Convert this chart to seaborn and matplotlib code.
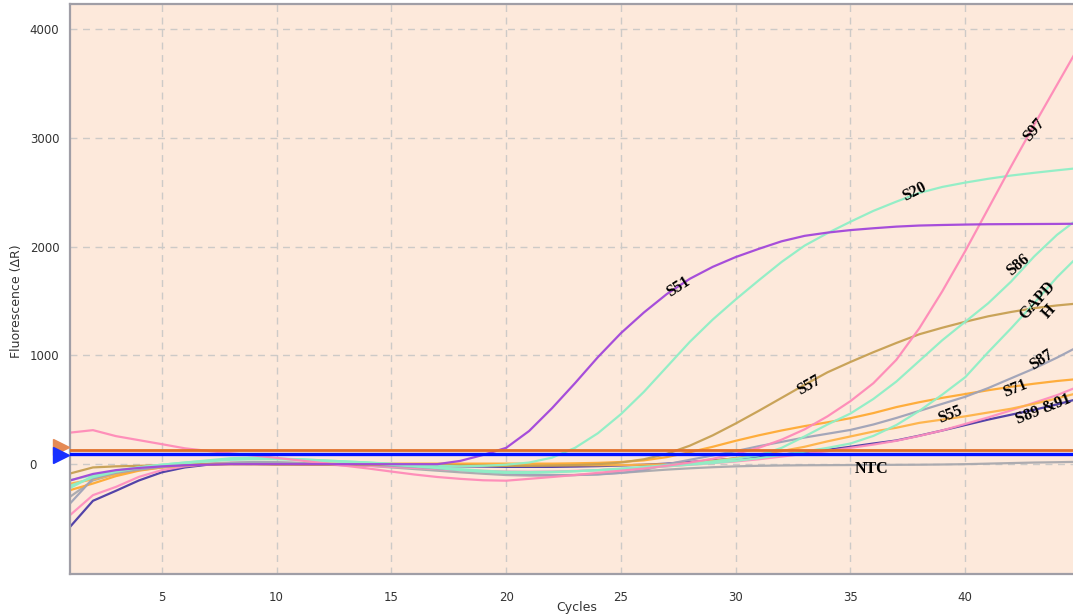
import numpy as np
import pandas as pd
import matplotlib
matplotlib.use("Agg")
import matplotlib.pyplot as plt
import matplotlib.transforms as mtransforms
import seaborn as sns

# Amplification curves: baseline-corrected fluorescence (dR) for cycles 1..45
cycles = list(range(1, 46))

s51 = [-150, -90, -55, -35, -20, -10, -5, 0, 0, 0, 0, 0, 0, 0, 0, 0,
       0, 30, 85, 150, 305, 515, 745, 985, 1205, 1395, 1565, 1705, 1815, 1905,
       1980, 2050, 2100, 2130, 2153, 2170, 2185, 2195, 2200, 2204, 2207, 2208, 2209, 2210, 2212]
s20 = [-147, -101, -60, -30, -5, 15, 35, 55, 60, 52, 45, 35, 25, 15, 5, -5,
       -15, -20, -15, -5, 15, 60, 150, 285, 460, 665, 895, 1125, 1330, 1515,
       1690, 1860, 2010, 2125, 2230, 2330, 2415, 2495, 2550, 2590, 2625, 2655, 2680, 2703, 2725]
s97 = [290, 313, 258, 221, 184, 146, 122, 100, 80, 58, 35, 10, -15, -40, -68, -95,
       -118, -135, -148, -152, -135, -118, -100, -80, -60, -40, -15, 15, 50, 95,
       150, 225, 320, 440, 580, 745, 960, 1250, 1590, 1960, 2350, 2740, 3120, 3490, 3860]
s86 = [-200, -120, -70, -35, -10, 10, 25, 40, 45, 45, 40, 30, 20, 10, -5, -20,
       -35, -55, -70, -80, -80, -75, -65, -55, -40, -25, -10, 5, 25, 50,
       80, 150, 255, 365, 466, 600, 760, 950, 1140, 1310, 1480, 1680, 1910, 2110, 2270]
gapdh = [-220, -110, -60, -30, -5, 15, 30, 45, 50, 50, 45, 35, 25, 15, 0, -15,
         -30, -45, -60, -70, -72, -70, -65, -55, -45, -35, -20, -5, 10, 30,
         55, 85, 115, 150, 190, 260, 360, 490, 640, 800, 1030, 1250, 1480, 1720, 1930]
s57 = [-86, -30, -20, -15, -10, -5, 0, 0, 0, -5, -5, -5, -5, -5, -5, -5,
       -8, -10, -12, -15, -15, -12, -8, 0, 15, 45, 95, 170, 265, 374,
       490, 610, 730, 845, 940, 1030, 1115, 1195, 1255, 1310, 1360, 1400, 1435, 1460, 1480]
s87 = [-362, -132, -80, -50, -25, -10, 0, 10, 15, 15, 10, 5, 0, -5, -15, -25,
       -40, -55, -70, -85, -95, -100, -100, -95, -80, -55, 0, 40, 80, 120,
       165, 205, 245, 280, 315, 365, 425, 490, 555, 620, 700, 790, 880, 980, 1090]
s71 = [-239, -178, -110, -60, -30, -10, 0, 5, 5, 5, 5, 5, 5, 5, 5, 5,
       5, 5, 5, 5, 5, 5, 8, 12, 20, 35, 65, 110, 160, 215,
       265, 310, 350, 385, 423, 470, 525, 570, 610, 645, 680, 712, 740, 765, 785]
s55 = [-180, -140, -90, -50, -25, -10, -5, 0, 0, 0, 0, 0, 0, 0, -2, -4,
       -6, -8, -10, -10, -10, -10, -10, -10, -8, -5, 0, 10, 30, 55,
       90, 120, 160, 210, 255, 300, 335, 380, 410, 440, 475, 510, 555, 605, 660]
s89 = [-577, -337, -245, -150, -75, -30, -5, 5, 8, 5, 0, -5, -8, -10, -12, -15,
       -18, -20, -22, -25, -25, -25, -22, -18, -12, -5, 5, 20, 35, 52,
       68, 88, 108, 132, 160, 190, 218, 262, 310, 360, 410, 455, 500, 550, 605]
s91 = [-469, -285, -209, -117, -55, -20, 0, 10, 10, 5, 0, -5, -10, -15, -25, -35,
       -45, -55, -62, -68, -70, -68, -62, -55, -45, -35, -20, -5, 10, 25,
       45, 70, 95, 120, 150, 180, 215, 260, 310, 370, 430, 495, 565, 635, 720]
ntc = [-300, -150, -90, -55, -30, -10, 5, 15, 20, 18, 12, 5, -5, -15, -30, -45,
       -60, -75, -88, -100, -105, -105, -100, -92, -80, -65, -50, -38, -28, -20,
       -15, -12, -10, -9, -8, -7, -6, -5, -3, 0, 5, 10, 15, 18, 22]

samples = ["NTC", "S89", "S91", "S55", "S71", "S87", "S57", "GAPDH", "S86", "S20", "S97", "S51"]
series = [ntc, s89, s91, s55, s71, s87, s57, gapdh, s86, s20, s97, s51]
colors = ["#A9A9AE", "#4A3AA6", "#FF8FBF", "#FFB347", "#FFAA33", "#9FA3B8",
          "#C7A052", "#8FEFC6", "#8FEFC6", "#8FEFC6", "#FF8AB8", "#A246DA"]

# Threshold levels (dR)
thr_orange = 129
thr_blue = 92

# Curve annotations: text, cycle, dR, rotation
notes = [
    ("S51", 27.5, 1628, 33),
    ("S20", 37.8, 2502, 27),
    ("S97", 43.0, 3073, 50),
    ("S86", 42.3, 1831, 40),
    ("GAPD\nH", 43.4, 1454, 48),
    ("S57", 33.2, 727, 30),
    ("S87", 43.3, 957, 33),
    ("S71", 42.2, 696, 22),
    ("S55", 39.35, 460, 22),
    ("S89 &91", 43.4, 505, 22),
    ("NTC", 35.9, -46, 0),
]

xticks = [5, 10, 15, 20, 25, 30, 35, 40]
yticks = [0, 1000, 2000, 3000, 4000]

df = pd.DataFrame({
    "Cycles": np.tile(cycles, len(samples)),
    "dR": np.concatenate([np.asarray(s, dtype=float) for s in series]),
    "sample": np.repeat(samples, len(cycles)),
})

sns.set_style("white")
plt.rcParams["font.family"] = ["DejaVu Sans"]

fig = plt.figure(figsize=(10.73, 6.15), dpi=100)
ax = fig.add_axes([70 / 1073, 40.7 / 615, 1010 / 1073, 570 / 615])
ax.set_facecolor("#FDE9DB")

sns.lineplot(data=df, x="Cycles", y="dR", hue="sample", hue_order=samples,
             palette=dict(zip(samples, colors)), legend=False, linewidth=1.6,
             alpha=0.95, ax=ax, sort=False)

ax.set_xlim(1, 45)
ax.set_ylim(-1013, 4230)
ax.set_xticks(xticks)
ax.set_yticks(yticks)
ax.grid(True, color="#CDCAC7", linestyle=(0, (5, 4)), linewidth=1.0)
ax.set_axisbelow(True)

for side in ["left", "bottom", "top"]:
    ax.spines[side].set_color("#A09EA6")
    ax.spines[side].set_linewidth(1.6)
ax.spines["right"].set_visible(False)

ax.tick_params(axis="both", length=0, labelsize=8.5, labelcolor="#333333")
ax.tick_params(axis="y", pad=29)
for lab in ax.get_yticklabels():
    lab.set_horizontalalignment("left")
ax.tick_params(axis="x", pad=12)

ax.set_xlabel("Cycles", fontsize=9, color="#333333")
ax.set_ylabel("Fluorescence (\u0394R)", fontsize=9, color="#333333")
ax.xaxis.set_label_coords(0.502, -0.047)
ax.yaxis.set_label_coords(-0.047, 0.48)

# Threshold lines with their handles on the left edge
ax.axhline(thr_orange, color="#E0702A", linewidth=2.0, zorder=5)
ax.axhline(thr_blue, color="#0010FF", linewidth=2.4, zorder=6)
handle_tr = mtransforms.blended_transform_factory(ax.transAxes, ax.transData)
ax.plot([-0.0085], [thr_orange + 30], marker=">", markersize=11, color="#E58A55",
        transform=handle_tr, clip_on=False, zorder=7)
ax.plot([-0.0085], [thr_blue - 5], marker=">", markersize=11.5, color="#1830FF",
        transform=handle_tr, clip_on=False, zorder=8)

for text, cx, cy, rot in notes:
    ax.text(cx, cy, text, rotation=rot, rotation_mode="anchor", ha="center",
            va="center", fontsize=11.5, fontweight="bold", color="black",
            family=["Liberation Serif", "DejaVu Serif"], linespacing=1.0,
            zorder=10, clip_on=True)

fig.savefig("out.png", dpi=100, facecolor="white")
